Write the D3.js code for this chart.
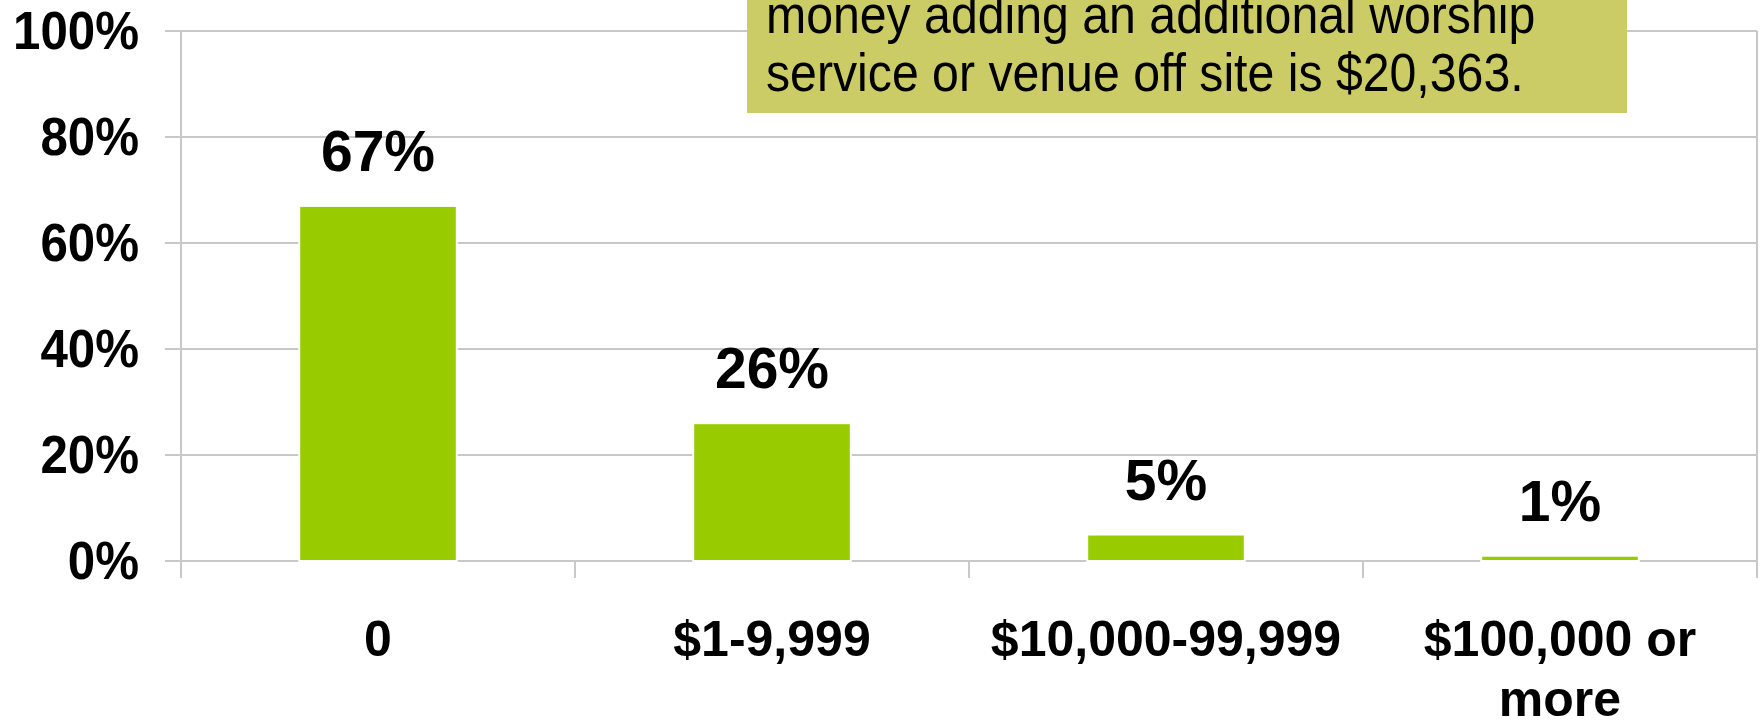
<!DOCTYPE html>
<html>
<head>
<meta charset="utf-8">
<script src="https://cdn.jsdelivr.net/npm/d3@7"></script>
<style>
  body { margin: 0; background: #fff; }
  svg { display: block; font-family: "Liberation Sans", Arial, sans-serif; }
</style>
</head>
<body>
<svg id="chart" width="1762" height="721"></svg>
<script>
var categories = ["0", "$1-9,999", "$10,000-99,999", "$100,000 or more"];
var values = [67, 26, 5, 1];
var yTicks = [0, 20, 40, 60, 80, 100];
var noteLines = ["money adding an additional worship", "service or venue off site is $20,363."];

var svg = d3.select("#chart");
var plotLeft = 181, plotRight = 1757, plotTop = 31, plotBottom = 561;
var gridColor = "#c8c8c8";

var x = d3.scaleBand().domain(categories).range([plotLeft, plotRight]).padding(0);
var y = d3.scaleLinear().domain([0, 100]).range([plotBottom, plotTop]);

// gridlines with their little tick stubs on the left
svg.append("g").selectAll("line")
    .data(yTicks)
    .enter()
    .append("line")
    .attr("x1", plotLeft - 16)
    .attr("x2", plotRight)
    .attr("y1", function (d) { return y(d); })
    .attr("y2", function (d) { return y(d); })
    .attr("stroke", gridColor)
    .attr("stroke-width", 2);

// y axis line + right border
svg.append("line")
    .attr("x1", plotLeft).attr("x2", plotLeft)
    .attr("y1", plotTop).attr("y2", plotBottom + 17)
    .attr("stroke", gridColor).attr("stroke-width", 2);
svg.append("line")
    .attr("x1", plotRight).attr("x2", plotRight)
    .attr("y1", plotTop).attr("y2", plotBottom + 17)
    .attr("stroke", gridColor).attr("stroke-width", 2);

// category tick marks
svg.append("g").selectAll("line")
    .data(categories.slice(1))
    .enter()
    .append("line")
    .attr("x1", function (d) { return x(d); })
    .attr("x2", function (d) { return x(d); })
    .attr("y1", plotBottom)
    .attr("y2", plotBottom + 17)
    .attr("stroke", gridColor)
    .attr("stroke-width", 2);

// y labels
svg.append("g").selectAll("text")
    .data(yTicks)
    .enter()
    .append("text")
    .attr("transform", function (d) { return "translate(139," + (y(d) + 18) + ") scale(0.93,1)"; })
    .attr("text-anchor", "end")
    .attr("font-size", "53px")
    .attr("font-weight", "bold")
    .text(function (d) { return d + "%"; });

// bars
var barW = x.bandwidth() * 0.4;
svg.append("g").selectAll("rect")
    .data(values)
    .enter()
    .append("rect")
    .attr("x", function (d, i) { return x(categories[i]) + x.bandwidth() / 2 - barW / 2; })
    .attr("y", function (d) { return y(d); })
    .attr("width", barW)
    .attr("height", function (d) { return plotBottom - y(d); })
    .attr("fill", "#99cc00")
    .attr("stroke", "#fff")
    .attr("stroke-width", 2);

// value labels
svg.append("g").selectAll("text")
    .data(values)
    .enter()
    .append("text")
    .attr("x", function (d, i) { return x(categories[i]) + x.bandwidth() / 2; })
    .attr("y", function (d) { return y(d) - 35; })
    .attr("text-anchor", "middle")
    .attr("font-size", "57px")
    .attr("font-weight", "bold")
    .text(function (d) { return d + "%"; });

// category labels, wrapped to the band width
var catLabels = svg.append("g").selectAll("text")
    .data(categories)
    .enter()
    .append("text")
    .attr("x", function (d) { return x(d) + x.bandwidth() / 2; })
    .attr("y", 656)
    .attr("text-anchor", "middle")
    .attr("font-size", "50px")
    .attr("font-weight", "bold");

catLabels.each(function (d) {
    var t = d3.select(this);
    var cx = +t.attr("x");
    var words = d.split(" ");
    var line = [];
    var tspan = t.append("tspan").attr("x", cx).attr("dy", 0);
    words.forEach(function (w) {
        line.push(w);
        tspan.text(line.join(" "));
        if (tspan.node().getComputedTextLength() > x.bandwidth() && line.length > 1) {
            line.pop();
            tspan.text(line.join(" "));
            line = [w];
            tspan = t.append("tspan").attr("x", cx).attr("dy", 60).text(w);
        }
    });
});

// annotation box (top runs off the page)
svg.append("rect")
    .attr("x", 747)
    .attr("y", -60)
    .attr("width", 880)
    .attr("height", 173)
    .attr("fill", "#cccc66");

svg.append("g").selectAll("text")
    .data(noteLines)
    .enter()
    .append("text")
    .attr("transform", function (d, i) { return "translate(766," + (33 + i * 58) + ") scale(0.91,1)"; })
    .attr("font-size", "53px")
    .text(function (d) { return d; });
</script>
</body>
</html>
